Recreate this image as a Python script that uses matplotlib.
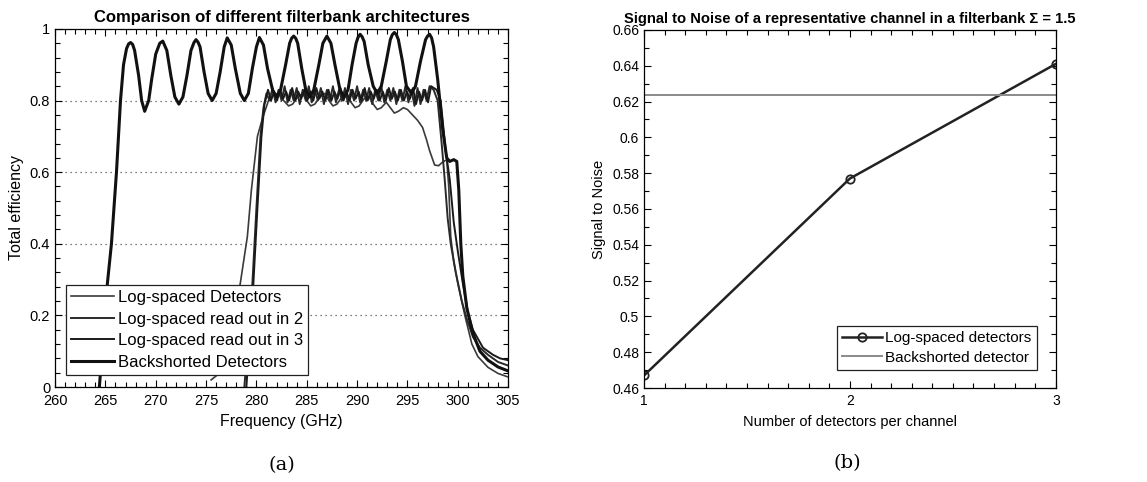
import numpy as np
import matplotlib
matplotlib.use('Agg')
import matplotlib.pyplot as plt
from matplotlib.ticker import MultipleLocator, FuncFormatter

plt.rcParams['font.family'] = ['Liberation Sans', 'DejaVu Sans']

# ---- (a) filterbank efficiency curves ----
f_log = [275.5, 276.4, 277.5, 278.4, 279.1, 279.5, 280.1, 280.6, 281.2, 281.7,
         282.2, 282.7, 283.2, 283.6, 284.1, 284.6, 285.0, 285.4, 285.8, 286.3,
         286.8, 287.2, 287.6, 288.0, 288.5, 289.0, 289.4, 289.8, 290.2, 290.7,
         291.2, 291.6, 292.0, 292.4, 292.9, 293.3, 293.7, 294.1, 294.6, 295.0,
         295.5, 296.0, 296.5, 296.9, 297.2, 297.7, 298.1, 298.4, 298.9, 299.1,
         299.3, 299.6, 300.0, 300.7, 301.4, 302.0, 303.0, 304.0, 305.0]
e_log = [0.02, 0.04, 0.15, 0.29, 0.42, 0.55, 0.70, 0.75, 0.80, 0.815,
         0.82, 0.80, 0.785, 0.79, 0.81, 0.82, 0.80, 0.785, 0.79, 0.81,
         0.82, 0.80, 0.785, 0.79, 0.81, 0.815, 0.795, 0.78, 0.785, 0.805,
         0.81, 0.79, 0.775, 0.78, 0.795, 0.78, 0.765, 0.77, 0.78, 0.775,
         0.76, 0.745, 0.725, 0.69, 0.66, 0.62, 0.618, 0.626, 0.635, 0.56,
         0.42, 0.35, 0.29, 0.20, 0.12, 0.085, 0.055, 0.038, 0.028]

f_ro2 = [278.8, 279.6, 280.0, 280.4, 280.7, 281.0, 281.3, 281.6, 281.9, 282.2,
         282.5, 282.8, 283.1, 283.4, 283.7, 284.0, 284.3, 284.6, 284.9, 285.2,
         285.5, 285.8, 286.1, 286.4, 286.7, 287.0, 287.3, 287.6, 287.9, 288.2,
         288.5, 288.8, 289.1, 289.4, 289.7, 290.0, 290.3, 290.6, 290.9, 291.2,
         291.5, 291.8, 292.1, 292.4, 292.7, 293.0, 293.3, 293.6, 293.9, 294.2,
         294.5, 294.8, 295.1, 295.4, 295.7, 296.0, 296.3, 296.6, 296.9, 297.2,
         297.6, 298.0, 298.4, 298.7, 299.0, 299.3, 299.8, 300.4, 300.9, 301.5,
         302.2, 303.0, 304.0, 305.0]
e_ro2 = [0.0, 0.29, 0.50, 0.70, 0.78, 0.82, 0.80, 0.835, 0.795, 0.83,
         0.80, 0.84, 0.795, 0.83, 0.80, 0.835, 0.79, 0.83, 0.80, 0.84,
         0.795, 0.83, 0.80, 0.835, 0.79, 0.83, 0.80, 0.84, 0.795, 0.83,
         0.80, 0.835, 0.79, 0.83, 0.80, 0.84, 0.795, 0.83, 0.80, 0.835,
         0.79, 0.83, 0.80, 0.84, 0.795, 0.83, 0.80, 0.835, 0.79, 0.83,
         0.80, 0.84, 0.795, 0.83, 0.785, 0.835, 0.79, 0.83, 0.80, 0.84,
         0.83, 0.80, 0.68, 0.58, 0.47, 0.40, 0.32, 0.24, 0.19, 0.14,
         0.11, 0.09, 0.07, 0.06]

f_ro3 = [279.0, 279.7, 280.1, 280.5, 280.8, 281.15, 281.45, 281.75, 282.05, 282.35,
         282.65, 282.95, 283.25, 283.55, 283.85, 284.15, 284.45, 284.75, 285.05, 285.35,
         285.65, 285.95, 286.25, 286.55, 286.85, 287.15, 287.45, 287.75, 288.05, 288.35,
         288.65, 288.95, 289.25, 289.55, 289.85, 290.15, 290.45, 290.75, 291.05, 291.35,
         291.65, 291.95, 292.25, 292.55, 292.85, 293.15, 293.45, 293.75, 294.05, 294.35,
         294.65, 294.95, 295.25, 295.55, 295.85, 296.15, 296.45, 296.75, 297.05, 297.35,
         297.9, 298.3, 298.8, 299.2, 299.6, 300.0, 300.5, 301.0, 301.5, 302.5,
         303.5, 304.2, 305.0]
e_ro3 = [0.0, 0.29, 0.50, 0.70, 0.79, 0.83, 0.80, 0.825, 0.80, 0.83,
         0.805, 0.825, 0.80, 0.835, 0.80, 0.825, 0.805, 0.83, 0.80, 0.825,
         0.80, 0.835, 0.805, 0.825, 0.80, 0.83, 0.80, 0.825, 0.805, 0.835,
         0.80, 0.825, 0.80, 0.83, 0.805, 0.825, 0.80, 0.835, 0.80, 0.825,
         0.805, 0.83, 0.80, 0.825, 0.80, 0.835, 0.805, 0.825, 0.80, 0.83,
         0.80, 0.825, 0.805, 0.835, 0.79, 0.825, 0.80, 0.83, 0.795, 0.84,
         0.83, 0.80, 0.66, 0.58, 0.46, 0.38, 0.29, 0.21, 0.16, 0.11,
         0.09, 0.08, 0.075]

f_bs = [264.4, 265.2, 265.6, 266.1, 266.5, 266.8, 267.1, 267.3, 267.5, 267.7,
        267.9, 268.3, 268.6, 268.9, 269.3, 269.6, 270.0, 270.4, 270.7, 271.1,
        271.5, 271.9, 272.3, 272.7, 273.1, 273.5, 273.8, 274.0, 274.2, 274.4,
        274.8, 275.2, 275.6, 276.0, 276.4, 276.8, 277.1, 277.5, 277.9, 278.4,
        278.8, 279.2, 279.6, 280.0, 280.3, 280.7, 281.1, 281.6, 282.0, 282.4,
        282.9, 283.3, 283.5, 283.7, 283.9, 284.1, 284.5, 284.9, 285.3, 285.7,
        286.2, 286.6, 287.0, 287.4, 287.8, 288.3, 288.7, 289.1, 289.5, 289.9,
        290.1, 290.3, 290.5, 290.7, 291.1, 291.6, 292.0, 292.4, 292.9, 293.3,
        293.5, 293.7, 293.9, 294.1, 294.5, 294.9, 295.4, 295.8, 296.3, 296.8,
        297.0, 297.2, 297.4, 297.6, 298.0, 298.5, 298.9, 299.2, 299.6, 299.9,
        300.1, 300.3, 300.5, 300.9, 301.5, 302.2, 303.0, 304.0, 305.0]
e_bs = [0.0, 0.29, 0.40, 0.60, 0.80, 0.90, 0.945, 0.958, 0.962, 0.957,
        0.94, 0.87, 0.80, 0.77, 0.80, 0.86, 0.93, 0.96, 0.966, 0.94,
        0.87, 0.81, 0.79, 0.81, 0.87, 0.94, 0.962, 0.97, 0.963, 0.95,
        0.88, 0.82, 0.80, 0.82, 0.88, 0.95, 0.975, 0.955, 0.89, 0.82,
        0.80, 0.82, 0.89, 0.95, 0.976, 0.955, 0.89, 0.83, 0.81, 0.83,
        0.90, 0.96, 0.974, 0.98, 0.974, 0.96, 0.89, 0.83, 0.81, 0.83,
        0.90, 0.96, 0.98, 0.96, 0.90, 0.83, 0.81, 0.83, 0.90, 0.96,
        0.977, 0.985, 0.978, 0.965, 0.90, 0.84, 0.82, 0.84, 0.91, 0.97,
        0.984, 0.99, 0.984, 0.97, 0.91, 0.84, 0.82, 0.84, 0.91, 0.97,
        0.98, 0.985, 0.975, 0.95, 0.86, 0.72, 0.64, 0.63, 0.635, 0.63,
        0.55, 0.40, 0.31, 0.22, 0.15, 0.10, 0.075, 0.056, 0.045]

# ---- (b) signal to noise ----
n_det = [1, 2, 3]
snr_log = [0.467, 0.577, 0.641]
snr_backshort = 0.6238


def fmt(v, pos):
    return '%g' % round(v, 4)


def matlab_ticks(ax, size):
    ax.tick_params(which='both', direction='in', top=True, right=True,
                   labelsize=size, width=0.8)
    ax.tick_params(which='major', length=5)
    ax.tick_params(which='minor', length=3.5)
    for s in ax.spines.values():
        s.set_linewidth(0.9)
    ax.xaxis.set_major_formatter(FuncFormatter(fmt))
    ax.yaxis.set_major_formatter(FuncFormatter(fmt))


fig = plt.figure(figsize=(11.47, 4.82), dpi=100)

ax1 = fig.add_axes([0.048, 0.197, 0.395, 0.743])
ax1.plot(f_log, e_log, color='#3a3a3a', lw=1.2, label='Log-spaced Detectors')
ax1.plot(f_ro2, e_ro2, color='#2a2a2a', lw=1.4, label='Log-spaced read out in 2')
ax1.plot(f_ro3, e_ro3, color='#1a1a1a', lw=1.4, label='Log-spaced read out in 3')
ax1.plot(f_bs, e_bs, color='#111111', lw=2.2, label='Backshorted Detectors')
ax1.set_xlim(260, 305)
ax1.set_ylim(0, 1)
ax1.xaxis.set_major_locator(MultipleLocator(5))
ax1.xaxis.set_minor_locator(MultipleLocator(1))
ax1.yaxis.set_major_locator(MultipleLocator(0.2))
ax1.yaxis.set_minor_locator(MultipleLocator(0.04))
ax1.yaxis.grid(True, linestyle=(0, (1, 3)), color='#555555', lw=0.9)
matlab_ticks(ax1, 10.5)
ax1.tick_params(axis='x', pad=5)
ax1.set_xlabel('Frequency (GHz)', fontsize=11.5, labelpad=4)
ax1.set_ylabel('Total efficiency', fontsize=11.5, labelpad=4)
ax1.set_title('Comparison of different filterbank architectures',
              fontsize=12, fontweight='bold', pad=5)
leg1 = ax1.legend(loc='lower left', bbox_to_anchor=(0.024, 0.034),
                  borderaxespad=0, fontsize=12, handlelength=2.6,
                  handletextpad=0.2, labelspacing=0.4, borderpad=0.3,
                  fancybox=False, framealpha=1, edgecolor='#222222')
leg1.get_frame().set_linewidth(0.9)
leg1.set_zorder(10)
fig.text(0.246, 0.035, '(a)', ha='center', va='center', fontsize=14,
         family='DejaVu Serif')

ax2 = fig.add_axes([0.5615, 0.195, 0.359, 0.743])
ax2.plot(n_det, snr_log, color='#222222', lw=1.8, marker='o', ms=6,
         mfc='none', mew=1.3, label='Log-spaced detectors')
ax2.axhline(snr_backshort, color='#8a8a8a', lw=1.4, label='Backshorted detector')
ax2.set_xlim(1, 3)
ax2.set_ylim(0.46, 0.66)
ax2.xaxis.set_major_locator(MultipleLocator(1))
ax2.xaxis.set_minor_locator(MultipleLocator(0.1))
ax2.yaxis.set_major_locator(MultipleLocator(0.02))
ax2.yaxis.set_minor_locator(MultipleLocator(0.01))
matlab_ticks(ax2, 10)
ax2.tick_params(axis='x', pad=4)
ax2.set_xlabel('Number of detectors per channel', fontsize=10.5, labelpad=5)
ax2.set_ylabel('Signal to Noise', fontsize=10.5, labelpad=4)
ax2.set_title('Signal to Noise of a representative channel in a filterbank \u03a3 = 1.5',
              fontsize=10.6, fontweight='bold', pad=5)
leg2 = ax2.legend(loc='lower right', bbox_to_anchor=(0.954, 0.05),
                  borderaxespad=0, fontsize=11, handlelength=2.6,
                  handletextpad=0.2, labelspacing=0.38, borderpad=0.35,
                  fancybox=False, framealpha=1, edgecolor='#222222')
leg2.get_frame().set_linewidth(0.9)
fig.text(0.739, 0.039, '(b)', ha='center', va='center', fontsize=14,
         family='DejaVu Serif')

fig.savefig('out.png', dpi=100)
